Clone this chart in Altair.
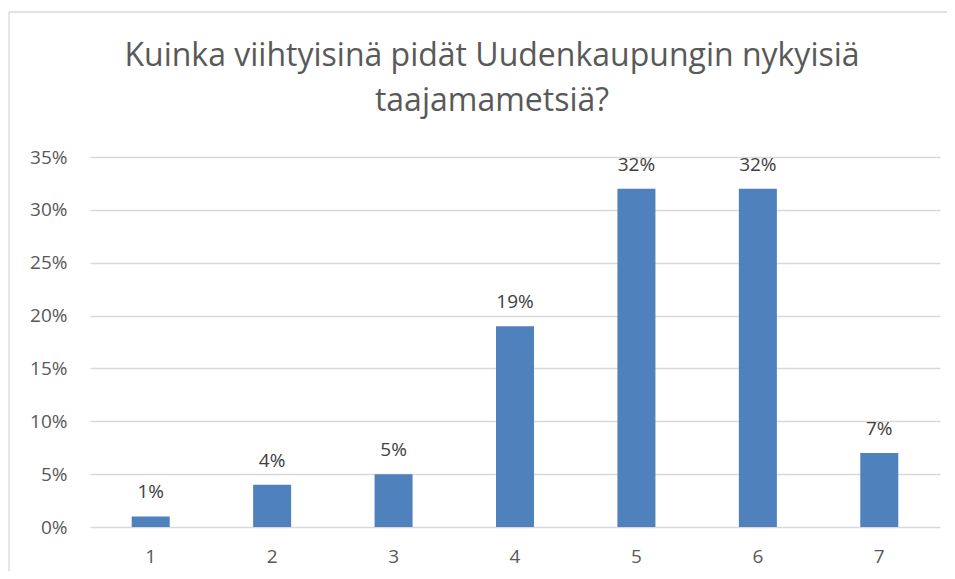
import altair as alt
import pandas as pd

categories = ["1", "2", "3", "4", "5", "6", "7"]
shares = [0.01, 0.04, 0.05, 0.19, 0.32, 0.32, 0.07]
y_ticks = [0, 0.05, 0.10, 0.15, 0.20, 0.25, 0.30, 0.35]
title_lines = ["Kuinka viihtyisinä pidät Uudenkaupungin nykyisiä", "taajamametsiä?"]

df = pd.DataFrame({"cat": categories, "share": shares})

FONT = "Open Sans"
TXT = "#595959"

x_enc = alt.X("cat:N", sort=categories, title=None,
              scale=alt.Scale(paddingInner=0.687, paddingOuter=0.3435),
              axis=alt.Axis(labelAngle=0, ticks=False, domain=False, grid=False,
                            labelFont=FONT, labelFontSize=19, labelColor=TXT,
                            labelPadding=20))
y_enc = alt.Y("share:Q", title=None,
              scale=alt.Scale(domain=[0, 0.35], nice=False),
              axis=alt.Axis(values=y_ticks, format=".0%", ticks=False, domain=False,
                            grid=True, gridColor="#d9d9d9", gridWidth=1.3,
                            labelFont=FONT, labelFontSize=19, labelColor=TXT,
                            labelPadding=23))

one = pd.DataFrame({"k": [0]})
top_edge = alt.Chart(one).mark_rule(color="#d9d9d9", strokeWidth=1.3).encode(
    x=alt.value(-81), x2=alt.value(870), y=alt.value(-145))
left_edge = alt.Chart(one).mark_rule(color="#d9d9d9", strokeWidth=1.3).encode(
    x=alt.value(-81), y=alt.value(-145), y2=alt.value(420))

bars = alt.Chart(df).mark_bar(color="#4f81bd").encode(x=x_enc, y=y_enc)

labels = alt.Chart(df).mark_text(
    baseline="alphabetic", dy=-18, font=FONT, fontSize=19, color="#404040"
).encode(x=alt.X("cat:N", sort=categories), y="share:Q",
         text=alt.Text("share:Q", format=".0%"))

chart = alt.layer(top_edge, left_edge, bars, labels).properties(
    width=850, height=370,
    autosize=alt.AutoSizeParams(type="none"),
    padding={"left": 82, "top": 149, "right": 7, "bottom": 44},
    title=alt.TitleParams(title_lines, font=FONT, fontSize=32, fontWeight="normal",
                          color=TXT, anchor="middle", frame="group", dx=-23,
                          lineHeight=45, offset=-132, baseline="alphabetic"),
).configure_view(stroke=None)

chart.save("out.html", embed_options={"renderer": "svg", "actions": False})
